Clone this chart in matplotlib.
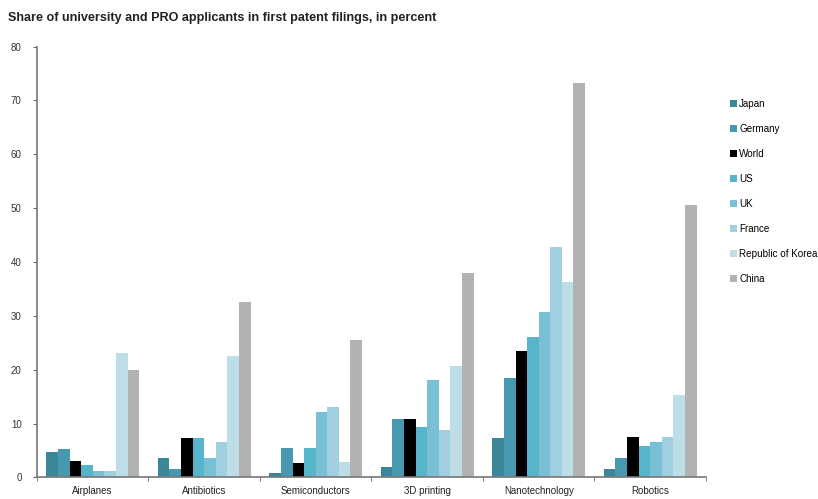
import matplotlib
matplotlib.use('Agg')
import matplotlib.pyplot as plt
import numpy

# data
fields = ['Airplanes', 'Antibiotics', 'Semiconductors', '3D printing', 'Nanotechnology', 'Robotics']
countries = ['Japan', 'Germany', 'World', 'US', 'UK', 'France', 'Republic of Korea', 'China']
japan = [4.8, 3.7, 0.8, 2.0, 7.3, 1.5]
germany = [5.3, 1.5, 5.5, 10.9, 18.5, 3.7]
world = [3.0, 7.3, 2.6, 10.9, 23.5, 7.6]
us = [2.3, 7.3, 5.5, 9.4, 26.1, 5.8]
uk = [1.2, 3.7, 12.1, 18.1, 30.7, 6.5]
france = [1.2, 6.6, 13.0, 8.8, 42.7, 7.6]
korea = [23.2, 22.5, 2.9, 20.7, 36.2, 15.3]
china = [19.9, 32.6, 25.6, 38.0, 73.2, 50.5]
colors = ['#3b8798', '#4699ae', '#000000', '#56b4cb', '#78c1d5', '#a0cfdf', '#bddde7', '#b2b2b2']

series = [japan, germany, world, us, uk, france, korea, china]

plt.rcParams['font.family'] = ['Liberation Sans', 'DejaVu Sans']

fig = plt.figure(figsize=(8.18, 4.99), dpi=100)
ax = fig.add_axes([0.0452, 0.0431, 0.8178, 0.8637])

x = numpy.arange(len(fields))
w = 0.104
for j, (vals, name, col) in enumerate(zip(series, countries, colors)):
    ax.bar(x + (j - 3.5) * w, vals, width=w, color=col, label=name, linewidth=0)

ax.set_xlim(-0.5, len(fields) - 0.5)
ax.set_ylim(0, 80)
ax.set_yticks(numpy.arange(0, 81, 10))
ax.set_xticks(x)
ax.set_xticklabels(fields)
ax.set_xticks(numpy.arange(-0.5, len(fields), 1), minor=True)
ax.tick_params(axis='x', which='major', length=0, pad=6, labelsize=7, labelcolor='#222222')
ax.tick_params(axis='x', which='minor', length=3, color='#666666', direction='out')
ax.tick_params(axis='y', length=3, color='#666666', labelsize=7, labelcolor='#333333', pad=8)

for s in ['top', 'right']:
    ax.spines[s].set_visible(False)
for s in ['left', 'bottom']:
    ax.spines[s].set_color('#777777')
    ax.spines[s].set_linewidth(1.2)

fig.text(0.01, 0.964, 'Share of university and PRO applicants in first patent filings, in percent',
         fontsize=9.1, fontweight='bold', color='#222222', va='center', ha='left')

fig.legend(loc='upper left', bbox_to_anchor=(0.893, 0.802), frameon=False, fontsize=7.1,
           handlelength=0.7, handleheight=0.7, handletextpad=0.2, labelspacing=1.52,
           borderaxespad=0, borderpad=0)

plt.savefig('out.png', dpi=100)
